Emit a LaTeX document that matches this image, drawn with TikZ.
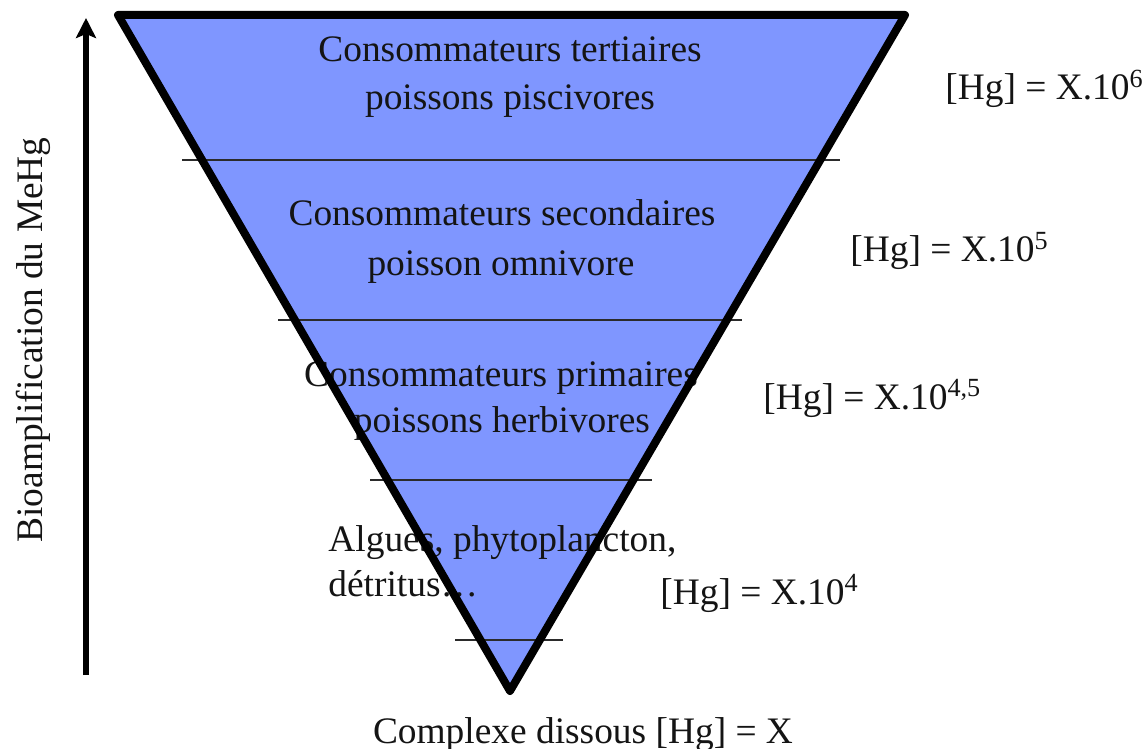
\documentclass[tikz,border=0pt]{standalone}
\usepackage{fontspec}
\setmainfont{Liberation Serif}
\usepackage{tikz}
\usetikzlibrary{arrows.meta,positioning,calc}
\definecolor{pyramid}{HTML}{7F96FF}
\definecolor{ink}{HTML}{141414}
\definecolor{rule}{HTML}{2B2B2B}

\begin{document}
\begin{tikzpicture}[x=0.5pt, y=-0.5pt, >={Stealth[length=10pt, width=10pt, inset=2pt]},
  label/.style={font=\color{ink}\fontsize{18.7}{22}\selectfont, inner sep=0pt, anchor=base},
  conc/.style={label, anchor=base west},
  divider/.style={color=rule, line cap=butt}]
  \useasboundingbox (0,0) rectangle (1147,749);

  % corners of the reversed pyramid
  \coordinate (tl) at (118,15);
  \coordinate (tr) at (905,15);
  \coordinate (apex) at (510,691);

  \fill[pyramid] (tl) -- (tr) -- (apex) -- cycle;

  % trophic levels
  \node[label] (tert1) at (510,62) {Consommateurs tertiaires};
  \node[label] (tert2) at (510,110) {poissons piscivores};
  \node[label] (sec1) at (502,226) {Consommateurs secondaires};
  \node[label] (sec2) at (501,275) {poisson omnivore};
  \node[label] (prim1) at (501,386) {Consommateurs primaires};
  \node[label] (prim2) at (502,432) {poissons herbivores};
  \node[conc] (alg1) at (328,551) {Algues, phytoplancton,};
  \node[conc] (alg2) at (328,596) {détritus…};

  % dividers
  \coordinate (d1l) at (182,160);  \coordinate (d1r) at (840,160);
  \coordinate (d2l) at (278,320);  \coordinate (d2r) at (742,320);
  \coordinate (d3l) at (370,480);  \coordinate (d3r) at (652,480);
  \coordinate (d4l) at (455,640);  \coordinate (d4r) at (563,640);
  \draw[divider, line width=0.8pt] (d1l) -- (d1r);
  \draw[divider, line width=1.4pt] (d2l) -- (d2r);
  \draw[divider, line width=1pt] (d3l) -- (d3r);
  \draw[divider, line width=1pt] (d4l) -- (d4r);

  \draw[line width=4pt, line join=round, color=black] (tl) -- (tr) -- (apex) -- cycle;

  % concentrations
  \node[conc] (hg6) at (945,100) {[Hg] = X.10\textsuperscript{6}};
  \node[conc] (hg5) at (850,262) {[Hg] = X.10\textsuperscript{5}};
  \node[conc] (hg45) at (763,409) {[Hg] = X.10\textsuperscript{4,5}};
  \node[conc] (hg4) at (660,604) {[Hg] = X.10\textsuperscript{4}};
  \node[label] (dissous) at (583,743) {Complexe dissous [Hg] = X};

  % bioamplification axis
  \coordinate (foot) at (86,675);
  \coordinate (head) at (86,18);
  \draw[->, line width=2.6pt] (foot) -- (head);
  \node[label, rotate=90] (bio) at (42,340) {Bioamplification du MeHg};
\end{tikzpicture}
\end{document}
